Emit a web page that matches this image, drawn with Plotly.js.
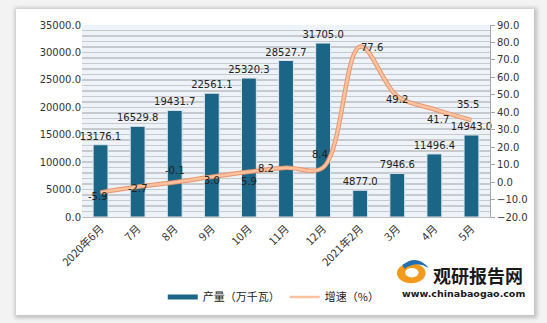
<!DOCTYPE html>
<html><head><meta charset="utf-8">
<script src="https://cdn.plot.ly/plotly-3.0.1.min.js"></script>
<style>
html,body{margin:0;padding:0;background:#f3f3f3;width:547px;height:323px;overflow:hidden}
#frame{position:absolute;left:16px;top:9px;width:518px;height:306px;background:#fff;box-shadow:1px 1px 4px 2px rgba(0,0,0,0.22)}
#chart{position:absolute;left:0;top:0;width:547px;height:323px}
</style></head>
<body><div id="frame"></div><div id="chart"></div>
<script>
const categories = ['2020年6月','7月','8月','9月','10月','11月','12月','2021年2月','3月','4月','5月'];
const output = [13176.1,16529.8,19431.7,22561.1,25320.3,28527.7,31705.0,4877.0,7946.6,11496.4,14943.0];
const growth = [-5.9,-2.7,-0.1,3.0,5.9,8.2,8.4,77.6,49.2,41.7,35.5];
const barName = '产量（万千瓦）';
const lineName = '增速（%）';
// label offsets (px) for growth labels: gx right, gy up
const gx = [-3,0,0,0,0,-20,-3,12,0,4,-3];
const gy = [-4,-2,12,-4,-10,-1,13,-1,-3,-10,16];

const numFont = 'DejaVu Sans, Verdana, sans-serif';
const cjkFont = 'Noto Sans CJK SC, sans-serif';
const barColor = '#1b6587';

const traces = [
  {type:'bar', x:categories, y:output, name:barName, width:0.4, showlegend:false,
   marker:{color:barColor, line:{color:'#dfe6ec', width:1}},
   text:output.map(v=>v.toFixed(1)), textposition:'outside', cliponaxis:false, constraintext:'none',
   textfont:{family:numFont, size:10, color:'#222'}, hoverinfo:'skip'},
  {type:'scatter', mode:'lines', x:[null], y:[null], name:barName,
   line:{color:barColor, width:5}, hoverinfo:'skip'},
  {type:'scatter', mode:'lines', x:categories, y:growth, yaxis:'y2', showlegend:false,
   line:{color:'#e8956c', width:4.5, shape:'spline', smoothing:1.0}, hoverinfo:'skip'},
  {type:'scatter', mode:'lines', x:categories, y:growth, yaxis:'y2', name:lineName,
   line:{color:'#fbc2a0', width:2.5, shape:'spline', smoothing:1.0}, hoverinfo:'skip'}
];

const annotations = growth.map((v,i)=>({
  x:categories[i], y:v, xref:'x', yref:'y2', text:v.toFixed(1), showarrow:false,
  xshift:gx[i], yshift:gy[i], font:{family:numFont, size:10, color:'#222'}
}));
annotations.push({xref:'paper', yref:'paper', x:1.087, y:-0.30, xanchor:'right', yanchor:'middle',
  text:'<b>观研报告网</b>', showarrow:false, font:{family:cjkFont, size:18, color:'#1a1a1a'}});
annotations.push({xref:'paper', yref:'paper', x:1.09, y:-0.396, xanchor:'right', yanchor:'middle',
  text:'<b>www.chinabaogao.com</b>', showarrow:false, font:{family:numFont, size:9.5, color:'#1a1a1a'}});

const shapes = [
  {type:'circle', xref:'paper', yref:'paper', x0:0.772, x1:0.842, y0:-0.345, y1:-0.24, fillcolor:'#f39a1e', line:{width:0}},
  {type:'circle', xref:'paper', yref:'paper', x0:0.792, x1:0.825, y0:-0.315, y1:-0.265, fillcolor:'#ffffff', line:{width:0}},
  {type:'path', xref:'paper', yref:'paper', path:'M 0.785 -0.25 Q 0.82 -0.19 0.85 -0.265 Q 0.82 -0.225 0.79 -0.27 Z', fillcolor:'#1f6fb3', line:{width:0}}
];

const layout = {
  width:547, height:323,
  margin:{l:82, r:57, t:25, b:106},
  paper_bgcolor:'rgba(0,0,0,0)', plot_bgcolor:'#eef3f9',
  showlegend:true,
  legend:{orientation:'h', x:0.47, xanchor:'center', y:-0.417, yanchor:'middle',
    bgcolor:'#ffffff', font:{family:cjkFont, size:11, color:'#222'}, itemwidth:30, traceorder:'normal'},
  xaxis:{type:'category', tickangle:-45, tickfont:{family:cjkFont, size:11, color:'#333'},
    showline:true, linecolor:'#bfbfbf', showgrid:false, ticks:''},
  yaxis:{range:[0,35000], dtick:5000, tickformat:'.1f', tickfont:{family:numFont, size:10, color:'#333'},
    showgrid:true, gridcolor:'#c6cacd', gridwidth:1.5, zeroline:false, showline:false, ticks:'',
    minor:{dtick:1000, showgrid:true, gridcolor:'#c6cacd', gridwidth:1.5}},
  yaxis2:{overlaying:'y', side:'right', range:[-20,90], dtick:10, tickformat:'.1f',
    tickfont:{family:numFont, size:10, color:'#333'}, showgrid:false, zeroline:false,
    showline:true, linecolor:'#a6a6a6', ticks:'outside', ticklen:4, tickcolor:'#a6a6a6'},
  annotations:annotations, shapes:shapes
};
Plotly.newPlot('chart', traces, layout, {displayModeBar:false, staticPlot:true});
</script></body></html>
